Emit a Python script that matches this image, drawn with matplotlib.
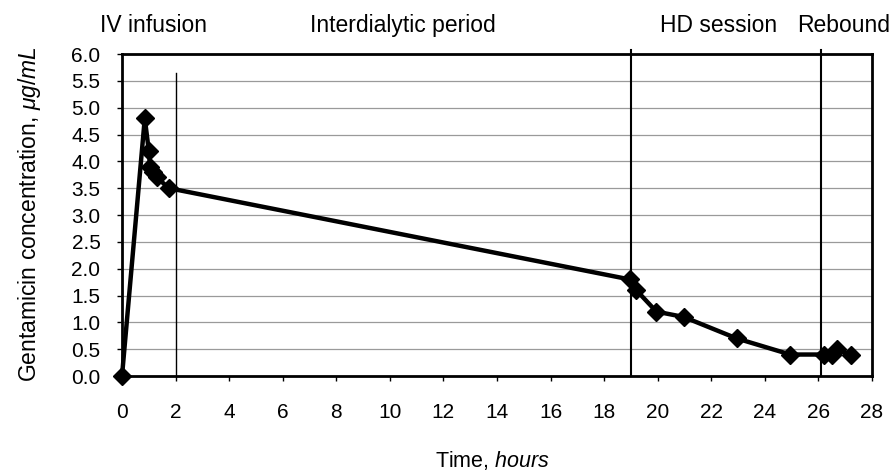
import matplotlib
matplotlib.use("Agg")
import matplotlib.pyplot as plt
import numpy as np

time_h = [0, 0.85, 1.0, 1.05, 1.17, 1.3, 1.75, 18.95, 19.2, 19.95, 20.97, 22.95, 24.95, 26.2, 26.5, 26.7, 27.2]
conc = [0.0, 4.8, 4.2, 3.9, 3.8, 3.7, 3.5, 1.8, 1.6, 1.2, 1.1, 0.7, 0.4, 0.4, 0.4, 0.5, 0.4]
phase_lines = [2.0, 19.0, 26.1]
phase_tops = [5.65, 6.08, 6.08]
phase_widths = [1.0, 1.5, 1.5]
phase_names = ["IV infusion", "Interdialytic period", "HD session", "Rebound"]
phase_label_x = [153, 403, 719, 844]
x_ticks = list(range(0, 29, 2))
y_ticks = [i * 0.5 for i in range(13)]

plt.rcParams['font.family'] = ['Liberation Sans', 'DejaVu Sans']
plt.rcParams['mathtext.fontset'] = 'custom'
plt.rcParams['mathtext.it'] = 'Liberation Sans:italic'
plt.rcParams['mathtext.rm'] = 'Liberation Sans'

W, H = 893, 471
fig = plt.figure(figsize=(W / 100, H / 100), dpi=100)
ax = fig.add_axes([122 / W, 1 - 376 / H, 750 / W, 322 / H])

for y in y_ticks[1:]:
    ax.axhline(y, color='#9a9a9a', lw=0.9, zorder=1)

for xv, top, w in zip(phase_lines, phase_tops, phase_widths):
    ax.plot([xv, xv], [0, top], color='black', lw=w, zorder=2, clip_on=False)

ax.plot(time_h, conc, color='black', lw=3.2, marker='D', markersize=9.5, zorder=3, clip_on=False)

ax.set_xlim(0, 28)
ax.set_ylim(0, 6.0)
ax.set_xticks(x_ticks)
ax.set_yticks(y_ticks)
ax.set_yticklabels([f"{v:.1f}" for v in y_ticks])
ax.tick_params(axis='both', labelsize=15, direction='out', length=3.5, width=1)
ax.tick_params(axis='x', pad=16)
ax.tick_params(axis='y', pad=12)
for s in ax.spines.values():
    s.set_linewidth(2)

fig.text(30 / W, 1 - 214 / H, r"Gentamicin concentration, $\mathit{\mu g/mL}$",
         fontsize=16.5, rotation=90, ha='center', va='center')
fig.text(493 / W, 1 - 467 / H, r"Time, $\mathit{hours}$", fontsize=15.5, ha='center', va='baseline')

for name, px in zip(phase_names, phase_label_x):
    fig.text(px / W, 1 - 32 / H, name, fontsize=16.5, ha='center', va='baseline')

fig.savefig("out.png", dpi=100)
